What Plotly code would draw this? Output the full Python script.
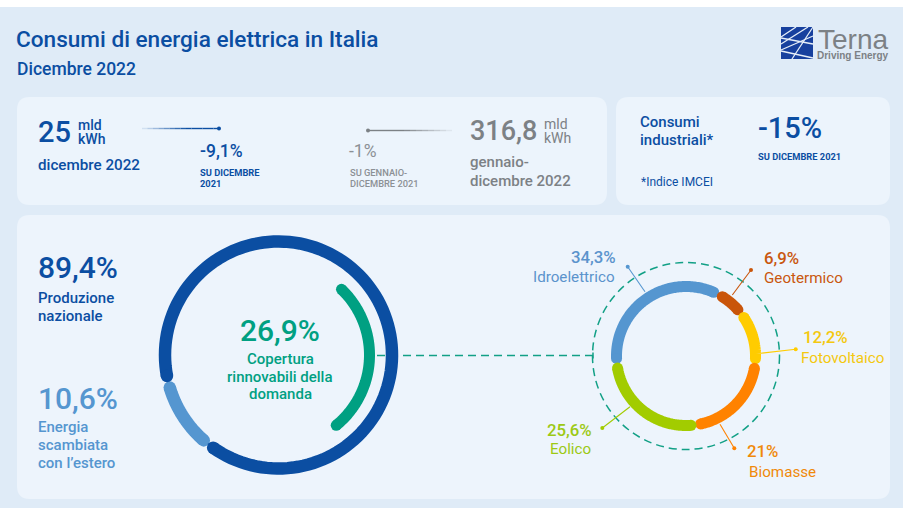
import numpy as np
import plotly.graph_objects as go

# Values
origin_labels = ["Produzione nazionale", "Energia scambiata con l'estero"]
origin_shares = [89.4, 10.6]
renewable_cover = 26.9
source_labels = ["Idroelettrico", "Geotermico", "Fotovoltaico", "Biomasse", "Eolico"]
source_shares = [34.3, 6.9, 12.2, 21.0, 25.6]

BLUE = "#0B4EA2"
LIGHT = "#5596D0"
TEAL = "#00A082"
GREY = "#7C8185"
GREY2 = "#8B9095"
DASH = "#12A086"
source_colors = ["#5596D0", "#C9550A", "#FFCC00", "#FF8200", "#A2CC00"]
source_text = ["#5B93CC", "#C9570F", "#F4C80F", "#F0890A", "#9CC914"]

W, H = 903, 508
FONT = "Roboto"

fig = go.Figure()
shapes = []
annotations = []


def label(x, y, text, size, color, weight=500, anchor="left", family=FONT):
    annotations.append(dict(
        x=x, y=y, text=text, xref="x", yref="y", showarrow=False,
        xanchor=anchor, yanchor="middle", borderpad=0, borderwidth=0,
        font=dict(family=family, size=size, color=color, weight=weight),
    ))


def panel(x0, y0, x1, y1, r=13, color="#ECF4FC"):
    path = (f"M {x0+r} {y0} L {x1-r} {y0} Q {x1} {y0} {x1} {y0+r} "
            f"L {x1} {y1-r} Q {x1} {y1} {x1-r} {y1} L {x0+r} {y1} "
            f"Q {x0} {y1} {x0} {y1-r} L {x0} {y0+r} Q {x0} {y0} {x0+r} {y0} Z")
    shapes.append(dict(type="path", path=path, fillcolor=color, line_width=0, layer="below"))


def seg(x0, y0, x1, y1, color, width=1.0, dash=None, opacity=1):
    shapes.append(dict(type="line", x0=x0, y0=y0, x1=x1, y1=y1, opacity=opacity,
                       line=dict(color=color, width=width, dash=dash), layer="below"))


def dot(x, y, color, r=2):
    shapes.append(dict(type="circle", x0=x-r, y0=y-r, x1=x+r, y1=y+r,
                       fillcolor=color, line_width=0, layer="below"))


def arc(cx, cy, radius, start, span, color, width):
    # angles in degrees, clockwise from 12 o'clock; the second trace makes the round caps
    a = np.radians(np.linspace(start, start + span, 120))
    x = cx + radius * np.sin(a)
    y = cy - radius * np.cos(a)
    fig.add_trace(go.Scatter(
        x=x, y=y, mode="lines", hoverinfo="skip", showlegend=False,
        line=dict(color=color, width=width, simplify=False),
    ))
    fig.add_trace(go.Scatter(
        x=[x[0], x[-1]], y=[y[0], y[-1]], mode="markers", hoverinfo="skip", showlegend=False,
        marker=dict(color=color, size=width, opacity=1, line_width=0),
    ))


def fading(x_from, x_to, y, color, steps=14):
    # line that fades towards x_from
    xs = np.linspace(x_from, x_to, steps + 1)
    for i in range(steps):
        seg(xs[i], y, xs[i+1], y, color, 1.4, opacity=min(1, 1.6 * (i + 1) / steps))


# backgrounds
shapes.append(dict(type="rect", x0=0, y0=7, x1=W, y1=H, fillcolor="#DFEBF7", line_width=0, layer="below"))
panel(17, 97, 607, 205)
panel(616, 97, 890, 205)
panel(17, 215, 890, 499, color="#EDF4FC")

# header
label(16, 39.5, "Consumi di energia elettrica in Italia", 22.6, BLUE)
label(17, 68.5, "Dicembre 2022", 17.5, BLUE)

# logo
shapes.append(dict(type="rect", x0=781, y0=27, x1=813, y1=59, fillcolor="#17409E", line_width=0, layer="below"))
for x0, y0, x1, y1 in [(781, 37, 796, 27), (781, 44, 808, 27), (781, 50, 813, 36),
                       (781, 38, 813, 44), (781, 51, 813, 58), (792, 59, 813, 27)]:
    seg(x0, y0, x1, y1, "#E6EEF8", 1.3)
label(818, 39.5, "Terna", 28, GREY, 400, family="Liberation Sans")
label(817, 55, "Driving Energy", 10, GREY, 700, family="Liberation Sans")

# panel: month
label(38, 131.5, "25", 29, BLUE)
label(78, 125, "mld", 14, BLUE)
label(78, 139, "kWh", 14, BLUE)
label(38, 164.5, "dicembre 2022", 15.2, BLUE)
fading(142, 219, 128.5, BLUE)
dot(219, 128.5, BLUE)
label(200, 150.5, "-9,1%", 17.5, BLUE)
label(200, 172, "SU DICEMBRE", 9.3, BLUE, 700)
label(200, 183.5, "2021", 9.3, BLUE, 700)

# panel: year
fading(452, 368, 130.5, GREY)
dot(368, 130.5, GREY)
label(349, 150.5, "-1%", 17.5, GREY2, 400)
label(349.5, 172.5, "SU GENNAIO-", 9.3, GREY2)
label(349.5, 183.5, "DICEMBRE 2021", 9.3, GREY2)
label(470, 131, "316,8", 27, GREY)
label(544, 124, "mld", 14, GREY, 400)
label(544, 137.5, "kWh", 14, GREY, 400)
label(470, 161.5, "gennaio-", 15, GREY)
label(470, 181, "dicembre 2022", 15, GREY)

# panel: industrial
label(640, 122, "Consumi", 15, BLUE)
label(640, 139.5, "industriali*", 15, BLUE)
label(758, 128, "-15%", 29, BLUE)
label(758, 156, "SU DICEMBRE 2021", 9.3, BLUE, 700)
label(640.5, 182, "*Indice IMCEI", 12, BLUE, 400)

# left column
label(38, 267, f"{origin_shares[0]:.1f}%".replace(".", ","), 30, BLUE)
label(38, 297.5, "Produzione", 15, BLUE)
label(38, 316, "nazionale", 15, BLUE)
label(38, 398, f"{origin_shares[1]:.1f}%".replace(".", ","), 30, LIGHT)
label(38, 427, "Energia", 15, LIGHT)
label(38, 445, "scambiata", 15, LIGHT)
label(38, 463, "con l\u2019estero", 15, LIGHT)

# main ring
CX, CY, R = 278.5, 355, 113.5
GAP = 6
light_start = 237.25 - origin_shares[1] * 3.6 / 2
arc(CX, CY, R, light_start + GAP / 2, origin_shares[1] * 3.6 - GAP, LIGHT, 12.5)
arc(CX, CY, R, light_start + origin_shares[1] * 3.6 + GAP / 2, origin_shares[0] * 3.6 - GAP, BLUE, 12.5)
arc(CX, CY, 91, 43.8, renewable_cover * 3.6, TEAL, 11)
label(280, 330, f"{renewable_cover:.1f}%".replace(".", ","), 30, TEAL, anchor="center")
label(280, 358.5, "Copertura", 15, TEAL, anchor="center")
label(280, 376.5, "rinnovabili della", 15, TEAL, anchor="center")
label(280, 394, "domanda", 15, TEAL, anchor="center")

# link and dashed circle
RX, RY = 686, 356
seg(377, 355.5, 593, 355.5, DASH, 1.5, dash="8px,5px")
seg(593, 352.5, 593, 358.5, DASH, 1.5)
shapes.append(dict(type="circle", x0=RX-93.5, y0=RY-93.5, x1=RX+93.5, y1=RY+93.5,
                   line=dict(color=DASH, width=1.5, dash="8px,5px"), layer="below"))

# leaders of the sources
leader_from = [(645, 291.7), (732.3, 295), (760.7, 353.3), (720, 424.3), (630, 406.7)]
leader_to = [(627.7, 266.7), (751, 270), (795.7, 349.3), (734.3, 448.3), (602.3, 428)]
for (x0, y0), (x1, y1), c in zip(leader_from, leader_to, source_colors):
    seg(x0, y0, x1, y1, c, 1.1)
    dot(x1, y1, c)

# sources ring
start = 264
SRC_GAP = 8
for share, c in zip(source_shares, source_colors):
    arc(RX, RY, 69.5, start + SRC_GAP / 2, share * 3.6 - SRC_GAP, c, 11)
    start += share * 3.6

pct = [f"{v:.1f}%".replace(".", ",") if v % 1 else f"{v:.0f}%" for v in source_shares]
pct_pos = [(615.7, 257, "right"), (764, 258, "left"), (802.5, 337, "left"), (747, 451, "left"), (591.7, 430, "right")]
name_pos = [(615, 277, "right"), (764, 278, "left"), (801, 358, "left"), (749, 472, "left"), (591, 449, "right")]
for i in range(len(source_labels)):
    label(pct_pos[i][0], pct_pos[i][1], pct[i], 16.8, source_text[i], 500, pct_pos[i][2])
    label(name_pos[i][0], name_pos[i][1], source_labels[i], 15.2, source_text[i], 400, name_pos[i][2])

fig.update_layout(
    width=W, height=H, margin=dict(l=0, r=0, t=0, b=0),
    paper_bgcolor="white", plot_bgcolor="white", showlegend=False,
    xaxis=dict(range=[0, W], visible=False, fixedrange=True),
    yaxis=dict(range=[H, 0], visible=False, fixedrange=True),
    shapes=shapes, annotations=annotations,
)
# page margin would push the figure 8px in
fig.write_html("out.html", config={"displayModeBar": False},
               post_script="document.body.style.margin='0';document.body.style.overflow='hidden';")
